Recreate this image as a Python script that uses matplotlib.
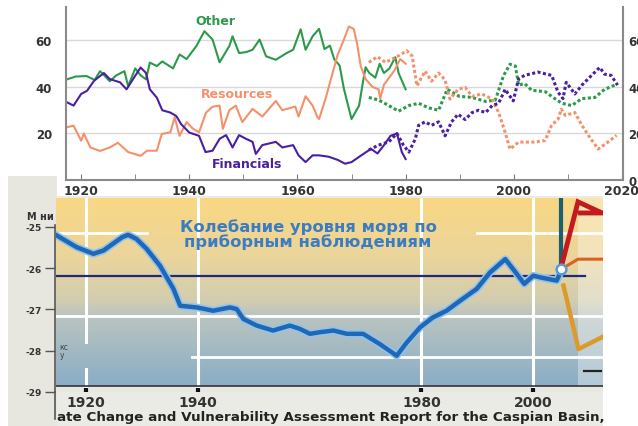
import numpy as np
import matplotlib.pyplot as plt
import matplotlib.patheffects as pe
from matplotlib.colors import LinearSegmentedColormap
from matplotlib.patches import Rectangle
from matplotlib.lines import Line2D

# ---- top panel: market share by sector (%) ----
other_yrs = [1917.4, 1919, 1921, 1922.5, 1923.5, 1925.3, 1926.5, 1928, 1928.7, 1930, 1931, 1932,
             1932.7, 1934, 1935, 1936, 1937, 1938.2, 1939.5, 1941.3, 1942.8, 1944.3, 1945.6, 1947.4,
             1948, 1949.2, 1950.5, 1951.7, 1953, 1954.2, 1956, 1958, 1959.2, 1960.6, 1961.5, 1962.8,
             1964, 1965, 1966, 1966.8, 1967.8, 1968.6, 1970, 1971.4, 1972, 1972.6, 1973.3, 1974.4,
             1975.2, 1976, 1977, 1978.1, 1978.7, 1980]
other_vals = [43.3, 44.5, 44.7, 43, 46.8, 42.5, 45, 46.8, 40.3, 48, 45, 43.3,
              50.5, 49, 51, 49.5, 48, 54, 52, 57.6, 64, 60.4, 50.6, 57.6,
              61.8, 54.6, 55, 56, 60.4, 53.2, 51.7, 54.6, 56, 64.8, 56, 61.8,
              65, 56.3, 57.8, 52, 49.2, 39.1, 26.2, 32, 40.6, 48.5, 46, 44,
              50, 46, 48, 52.8, 46, 39]

res_yrs = [1917.4, 1918.6, 1920, 1920.5, 1921.7, 1923.5, 1925.3, 1926.8, 1928.7, 1931, 1932.2, 1934,
           1934.9, 1936.5, 1937.3, 1938.2, 1939.5, 1940.7, 1941.8, 1943.1, 1944.3, 1945.6, 1946.2,
           1947.4, 1948.6, 1949.8, 1951.7, 1953.5, 1956, 1957.2, 1959.6, 1960.2, 1961.5, 1962.8,
           1963.7, 1964, 1965.2, 1966.5, 1967.4, 1968.6, 1969.5, 1970.4, 1971, 1971.7, 1972.6,
           1973.9, 1975, 1975.3, 1976, 1977.9, 1979, 1980]
res_vals = [22.7, 23.4, 16.9, 20, 14, 12.5, 14, 16, 12, 10.4, 12.6, 12.6,
            19.8, 20.5, 27, 19, 24.9, 22, 20.5, 29, 31.5, 32, 22,
            30, 32, 24.9, 30.6, 27.3, 34, 30, 31.6, 27.3, 36, 32,
            27, 26.2, 35, 46, 53.6, 60.5, 66, 65, 59, 49, 43.4,
            40, 39, 35, 41, 47, 52, 50]

fin_yrs = [1917.4, 1918.6, 1920, 1921.1, 1922.4, 1924.2, 1925.3, 1927.2, 1928.4, 1929.6, 1931, 1932,
           1932.7, 1934, 1935, 1936.5, 1937.6, 1938.5, 1940, 1941.8, 1943, 1944.3, 1945.6, 1946.8,
           1948, 1949.2, 1950.5, 1951.7, 1952.3, 1953.5, 1956, 1957.2, 1959.2, 1960.2, 1961.5,
           1962.8, 1964, 1965.8, 1967.5, 1968.8, 1970, 1971.8, 1973.6, 1974.8, 1976, 1977.2,
           1978.4, 1979.3, 1980]
fin_vals = [33.4, 32, 37, 38.4, 42.7, 46, 43.4, 42, 39, 43.4, 48.4, 46,
            39, 35.4, 30, 29, 27.5, 24, 20.4, 19, 12, 12.6, 17.7, 19.3,
            14, 19.3, 17.7, 16.4, 11.2, 15, 16.4, 14, 15, 10.6, 7.7,
            10.6, 10.6, 10, 8.6, 7, 7.7, 10.6, 13.4, 11.4, 15, 19,
            20, 12, 9]

# later (dotted) series
other2_yrs = [1973.2, 1975, 1976.9, 1978.7, 1980.6, 1982.4, 1984.3, 1986.1, 1987.7, 1989.9, 1992.3,
              1994.8, 1996.6, 1998.1, 1999.3, 2000.3, 2000.9, 2002, 2003.3, 2005.8, 2007.6, 2008.9,
              2010.7, 2012.6, 2015, 2016.8, 2018.7]
other2_vals = [35.5, 34.4, 32, 29.6, 32, 33, 31, 30, 39, 36, 35.5,
               33.8, 34.4, 44.8, 49.8, 49, 40.8, 41.5, 38.6, 38, 35, 33,
               32, 35, 35.5, 39, 40.8]

res2_yrs = [1973.2, 1974.8, 1976.3, 1978.7, 1980.2, 1981.2, 1982.1, 1983.6, 1984.8, 1986.1, 1987.3,
            1988.2, 1989.7, 1991, 1992.3, 1994.1, 1996, 1997.2, 1998.4, 1999.3, 2000.9, 2003.9,
            2005.8, 2007, 2008.2, 2008.8, 2009.5, 2011.3, 2012.6, 2013.8, 2015.6, 2017.4, 2019]
res2_vals = [50.6, 53, 50.6, 53.4, 55.6, 53.4, 40.5, 46.8, 42.5, 46, 43,
             34.8, 39, 39.8, 36, 37, 34.8, 29, 20.5, 13.3, 16.3, 16.3,
             17, 23.5, 26.2, 30.5, 27.8, 29, 23.5, 19.2, 13.3, 16.3, 19.2]

fin2_yrs = [1973.2, 1975, 1976.9, 1978.4, 1979.6, 1980.6, 1981.8, 1982.4, 1983.6, 1984.8, 1986.1,
            1987.3, 1988.5, 1989.7, 1991, 1992.3, 1993.5, 1994.8, 1996, 1997.2, 1998.4, 1999.9,
            2000.9, 2002, 2004.5, 2007, 2008.2, 2009.1, 2009.7, 2011.3, 2012.6, 2014.4, 2015.9,
            2016.8, 2018, 2019.2]
fin2_vals = [12.9, 15, 16.4, 20, 15, 12, 17.7, 23.5, 25, 23.5, 25,
             19, 25, 28.3, 26, 29, 30, 29, 32, 33, 39, 34,
             43.5, 45, 46.4, 45, 37.7, 35, 42, 37, 40.8, 45, 48.4,
             45.5, 45, 40.8]

top_xticks = [1920, 1940, 1960, 1980, 2000, 2020]
top_yticks = [0, 20, 40, 60]

# ---- bottom panel: Caspian sea level (m) ----
sea_yrs = [1914.9, 1918.4, 1921.4, 1923.2, 1926.5, 1927.6, 1929.1, 1930.9, 1933.3, 1935.7, 1936.9,
           1939.9, 1942.8, 1945.8, 1947.0, 1948.2, 1950.6, 1953.5, 1956.5, 1958.3, 1960.1, 1961.9,
           1964.3, 1966.7, 1969.6, 1972.6, 1975.6, 1977.4, 1979.8, 1982.1, 1984.5, 1986.9, 1989.9,
           1992.3, 1995.0, 1996.4, 1998.4, 2000.0, 2001.2, 2004.2, 2005.1]
sea_vals = [-25.21, -25.49, -25.65, -25.57, -25.25, -25.19, -25.29, -25.53, -25.94, -26.5, -26.91,
            -26.95, -27.03, -26.95, -26.99, -27.23, -27.39, -27.51, -27.39, -27.47, -27.59, -27.55,
            -27.51, -27.59, -27.59, -27.84, -28.12, -27.8, -27.43, -27.19, -27.03, -26.79, -26.5,
            -26.1, -25.78, -26.02, -26.38, -26.18, -26.22, -26.3, -26.03]
now_yr, now_val = 2004.9, -26.03
high_yrs = [2004.9, 2008.0, 2012.3, 2008.4]
high_vals = [-26.03, -24.39, -24.66, -24.66]
mid_yrs = [2004.9, 2008.0, 2012.3]
mid_vals = [-26.03, -25.78, -25.78]
low_yrs = [2005.4, 2008.1, 2012.3]
low_vals = [-26.42, -27.96, -27.67]
ref_level = -26.2
bot_xticks = [1920, 1940, 1980, 2000]
bot_yticks = [-25, -26, -27, -28, -29]

GREEN, ORANGE, PURPLE = "#2b9a4a", "#f4916b", "#4a1fa2"

fig = plt.figure(figsize=(6.38, 4.27), dpi=100)
W, H = 638.0, 427.0

# grey background strips behind the lower picture
fig.patches.append(Rectangle((8 / W, 0), (57 - 8) / W, 1 - 177 / H, transform=fig.transFigure,
                             facecolor="#e7e7e0", edgecolor="none", zorder=0.5))
fig.patches.append(Rectangle((57 / W, 0), (603 - 57) / W, 1 - 197 / H, transform=fig.transFigure,
                             facecolor="#ebebe5", edgecolor="none", zorder=0.5))

# ================= top chart =================
ax = fig.add_axes([66 / W, 1 - 181 / H, (623 - 66) / W, (181 - 8) / H], zorder=0)
ax.set_xlim(1917.2, 2020.2)
ax.set_ylim(0, 74.4)
for v in top_yticks[1:]:
    ax.axhline(v, color="#d9d9d9", lw=1, zorder=0)

ax.plot(other_yrs, other_vals, color=GREEN, lw=1.5)
ax.plot(res_yrs, res_vals, color=ORANGE, lw=1.5)
ax.plot(fin_yrs, fin_vals, color=PURPLE, lw=1.5)
ax.plot(other2_yrs, other2_vals, color=GREEN, lw=2.2, ls=(0, (1, 0.8)))
ax.plot(res2_yrs, res2_vals, color=ORANGE, lw=2.2, ls=(0, (1, 0.8)))
ax.plot(fin2_yrs, fin2_vals, color=PURPLE, lw=2.2, ls=(0, (1, 0.8)))

ax.text(1944.8, 68.4, "Other", color=GREEN, fontsize=9, fontweight="bold", ha="center", va="center")
ax.text(1948.8, 37.0, "Resources", color=ORANGE, fontsize=9, fontweight="bold", ha="center", va="center")
ax.text(1950.7, 6.9, "Financials", color=PURPLE, fontsize=9, fontweight="bold", ha="center", va="center")

ax.spines["top"].set_visible(False)
for s in ("left", "bottom", "right"):
    ax.spines[s].set_color("#8a8a8a")
    ax.spines[s].set_linewidth(1.5)
ax.set_xticks(top_xticks)
ax.set_xticks(np.arange(1930, 2020, 20), minor=True)
ax.tick_params(axis="x", which="both", direction="in", length=4, color="#777", pad=3,
               labelsize=9, labelcolor="#333")
ax.set_yticks(top_yticks)
ax.tick_params(axis="y", length=0, labelsize=8.5, labelcolor="#333", pad=10)
for lab in ax.get_xticklabels() + ax.get_yticklabels():
    lab.set_fontweight("bold")

# right-hand copy of the y labels (cut by the picture edge, as in the original)
ax_r = ax.twinx()
ax_r.set_ylim(ax.get_ylim())
ax_r.set_yticks(top_yticks)
ax_r.tick_params(axis="y", length=0, labelsize=8.5, labelcolor="#333", pad=4)
for lab in ax_r.get_yticklabels():
    lab.set_fontweight("bold")
for s in ax_r.spines.values():
    s.set_visible(False)

# ================= bottom chart =================
bx = fig.add_axes([56 / W, 1 - 393 / H, (603 - 56) / W, (393 - 199) / H], zorder=1)
x0, x1 = 1914.71, 2012.47
y_top, y_base = -24.297, -28.855
bx.set_xlim(x0, x1)
bx.set_ylim(-29, y_top)
bx.set_facecolor("#e8e8e2")

grad = LinearSegmentedColormap.from_list(
    "sea", [(0.0, "#f9d883"), (0.3, "#ecd59a"), (0.55, "#d2cdb0"), (0.62, "#bcc5bf"), (1.0, "#8aadc6")])
bx.imshow(np.linspace(0, 1, 200).reshape(-1, 1), cmap=grad, aspect="auto",
          extent=(x0, x1, y_base, y_top), zorder=0, interpolation="bilinear")
bx.axvspan(2008.0, x1, ymin=(y_base + 29) / (y_top + 29), color="white", alpha=0.35, lw=0, zorder=0.5)

# white grid
for yr in bot_xticks[1:]:
    bx.plot([yr, yr], [y_base, y_top], color="white", lw=2.2, zorder=1)
bx.plot([1920, 1920], [-27.79, y_top], color="white", lw=2.2, zorder=1)
bx.plot([1920, 1920], [y_base, -28.45], color="white", lw=2.2, zorder=1)
bx.plot([x0, 1931.0], [-25.15, -25.15], color="white", lw=2, zorder=1)
bx.plot([1990.0, x1], [-25.15, -25.15], color="white", lw=2, zorder=1)
bx.plot([x0, x1], [-27.16, -27.16], color="white", lw=2, zorder=1)
bx.plot([1939.0, x1], [-28.15, -28.15], color="white", lw=2, zorder=1)

bx.plot([x0, 2009.2], [ref_level, ref_level], color="#1c2a78", lw=1.6, zorder=2)
bx.plot([now_yr, now_yr], [now_val, y_top], color="#1d5f6e", lw=3, zorder=2)
bx.plot(high_yrs, high_vals, color="#c21a20", lw=3.5, zorder=3, solid_joinstyle="miter")
bx.plot(mid_yrs, mid_vals, color="#d9621e", lw=2.2, zorder=3)
bx.plot(low_yrs, low_vals, color="#dc9a2c", lw=3.2, zorder=3)
bx.plot([2009.0, 2012.2], [-28.5, -28.5], color="#222", lw=1.6, zorder=3)

bx.plot(sea_yrs, sea_vals, color="#1f67b7", lw=3.2, zorder=4,
        path_effects=[pe.Stroke(linewidth=5.5, foreground="#93c3ea"), pe.Normal()])
bx.plot([now_yr], [now_val], marker="o", ms=7, mfc="white", mec="#5a9ad6", mew=1.8, zorder=5)
bx.plot([x0, x1], [y_base, y_base], color="#333", lw=1.2, zorder=5)

bx.text(1959.75, -25.17, "Колебание уровня моря по\nприборным наблюдениям", color="#3b7cc2",
        fontsize=11.8, fontweight="bold", ha="center", va="center", linespacing=0.95, zorder=6)
bx.text(1915.3, -28.0, "кс\nу", color="#444", fontsize=5.5, ha="left", va="center", linespacing=0.8)

for s in ("top", "right", "bottom"):
    bx.spines[s].set_visible(False)
bx.spines["left"].set_color("#555")
bx.spines["left"].set_linewidth(1.2)
bx.spines["left"].set_position(("outward", 1))
bx.spines["left"].set_bounds(-29, -24.95)
bx.set_yticks(bot_yticks)
bx.set_yticklabels([str(v) for v in bot_yticks])
bx.tick_params(axis="y", direction="out", length=7, width=1, color="#555", labelsize=6.5,
               labelcolor="#333", pad=2)
bx.set_xticks(bot_xticks)
bx.tick_params(axis="x", direction="in", length=3, width=3, color="#111", labelsize=10,
               labelcolor="#333", pad=2)
for lab in bx.get_xticklabels() + bx.get_yticklabels():
    lab.set_fontweight("bold")

fig.lines.append(Line2D([55 / W, 55 / W], [1 - 420 / H, 1 - 393 / H], transform=fig.transFigure,
                        color="#555", lw=1.2, zorder=2))
fig.text(27 / W, 1 - 217 / H, "М ни", fontsize=7, fontweight="bold", color="#333",
         ha="left", va="center", zorder=2)
fig.text(57 / W, 1 - 418 / H, "ate Change and Vulnerability Assessment Report for the Caspian Basin,",
         fontsize=9.7, fontweight="bold", color="#222", ha="left", va="center", zorder=2)

fig.savefig("out.png", dpi=100)
